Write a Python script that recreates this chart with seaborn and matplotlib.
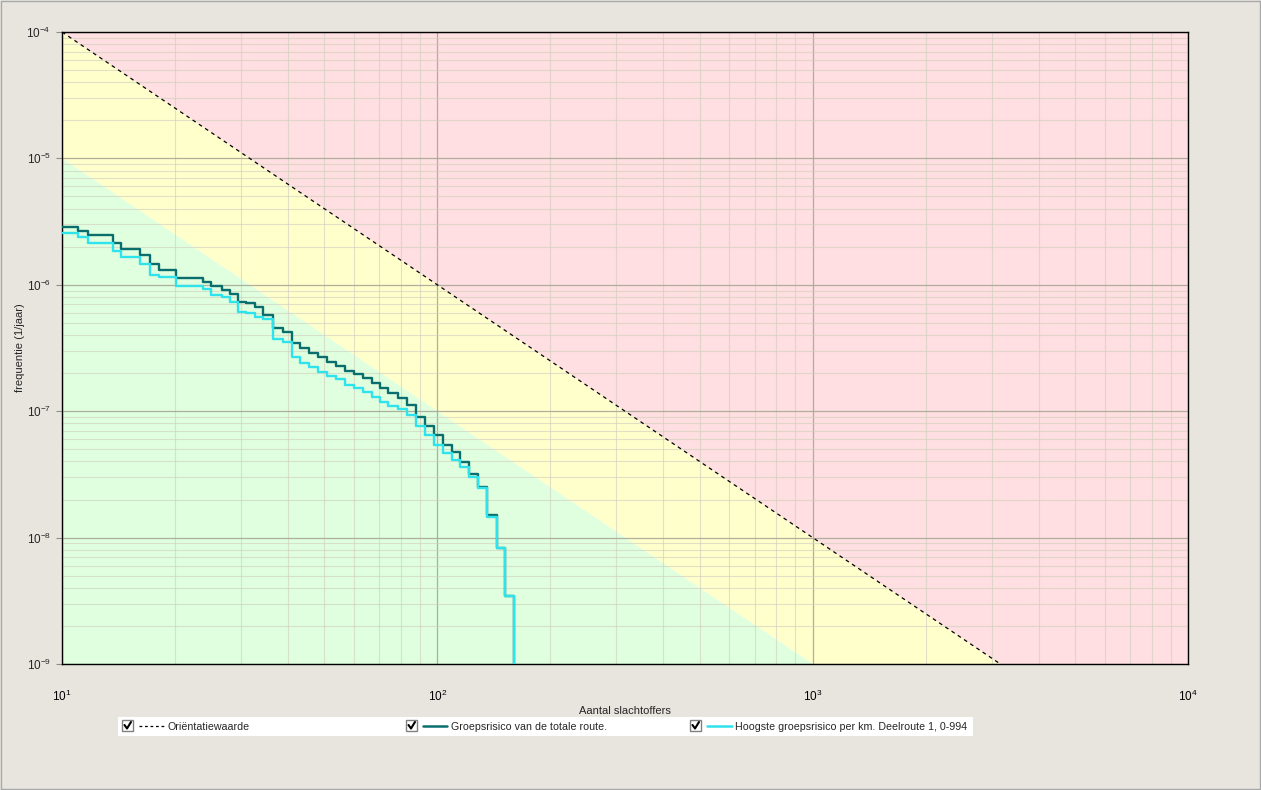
import numpy as np
import pandas as pd
import matplotlib
matplotlib.use("Agg")
import matplotlib.pyplot as plt
from matplotlib.patches import Rectangle
from matplotlib.lines import Line2D
from matplotlib.ticker import LogLocator, NullFormatter, LogFormatterSciNotation, FixedLocator
import seaborn as sns

# ---------------- data ----------------
# number of victims N at which each step of the FN-curves starts
n_steps = [10, 11.05, 11.75, 13.7, 14.4, 16.1, 17.2, 18.1, 20.1, 23.8, 25.0, 26.7,
           28.0, 29.5, 31.0, 32.7, 34.4, 36.6, 38.9, 40.9, 43.1, 45.6, 48.2, 50.9,
           53.7, 56.8, 60.0, 63.5, 66.9, 70.4, 74.0, 78.4, 82.9, 87.8, 92.7, 98.0,
           103.4, 109.2, 115.2, 121.7, 128.6, 135.9, 144.0, 151.5, 160.4]
# Groepsrisico van de totale route (frequency per year); last value lies below the axis
gr_totaal = [2.87e-6, 2.67e-6, 2.46e-6, 2.13e-6, 1.92e-6, 1.72e-6, 1.45e-6, 1.30e-6,
             1.14e-6, 1.06e-6, 9.78e-7, 9.10e-7, 8.46e-7, 7.35e-7, 7.14e-7, 6.64e-7,
             5.77e-7, 4.53e-7, 4.26e-7, 3.44e-7, 3.14e-7, 2.91e-7, 2.67e-7, 2.46e-7,
             2.28e-7, 2.09e-7, 1.97e-7, 1.82e-7, 1.68e-7, 1.52e-7, 1.385e-7, 1.265e-7,
             1.12e-7, 9.05e-8, 7.64e-8, 6.48e-8, 5.45e-8, 4.78e-8, 3.99e-8, 3.21e-8,
             2.53e-8, 1.50e-8, 8.32e-9, 3.47e-9, 1e-11]
# Hoogste groepsrisico per km, Deelroute 1, 0-994
gr_hoogste = [2.58e-6, 2.40e-6, 2.15e-6, 1.85e-6, 1.66e-6, 1.47e-6, 1.20e-6, 1.15e-6,
              9.78e-7, 9.21e-7, 8.30e-7, 8.01e-7, 7.35e-7, 6.13e-7, 5.98e-7, 5.59e-7,
              5.41e-7, 3.72e-7, 3.55e-7, 2.70e-7, 2.42e-7, 2.25e-7, 2.05e-7, 1.90e-7,
              1.79e-7, 1.61e-7, 1.52e-7, 1.43e-7, 1.29e-7, 1.19e-7, 1.09e-7, 1.035e-7,
              9.33e-8, 7.64e-8, 6.48e-8, 5.40e-8, 4.64e-8, 4.11e-8, 3.64e-8, 3.03e-8,
              2.45e-8, 1.46e-8, 8.27e-9, 3.45e-9, 1e-11]

# axis ticks
x_ticks = [1e1, 1e2, 1e3, 1e4]
y_ticks = [1e-9, 1e-8, 1e-7, 1e-6, 1e-5, 1e-4]

# orientation value: F = C / N^2
ow_constant = 1e-2
ow_lower_constant = 1e-3

legend_labels = ["Oriëntatiewaarde", "Groepsrisico van de totale route.",
                 "Hoogste groepsrisico per km. Deelroute 1, 0-994"]
xlabel = "Aantal slachtoffers"
ylabel = "frequentie (1/jaar)"

# ---------------- style ----------------
sns.set_style("white")
plt.rcParams["font.family"] = ["Liberation Sans", "DejaVu Sans"]
plt.rcParams["mathtext.default"] = "regular"

W, H = 1261, 790
bg = "#E8E5DF"
c_red = "#FFDFE1"
c_yel = "#FFFFCC"
c_grn = "#DFFFDF"
c_dark = "#0B6E6E"
c_cyan = "#2EE3EC"

def fx(px):
    return px / W

def fy(py):
    return 1 - py / H

fig = plt.figure(figsize=(W / 100, H / 100), dpi=100, facecolor=bg)
ax = fig.add_axes([fx(62), fy(664), (1188 - 62) / W, (664 - 32) / H])
ax.set_xscale("log")
ax.set_yscale("log")
ax.set_xlim(10, 1e4)
ax.set_ylim(1e-9, 1e-4)

# background zones
ngrid = np.logspace(1, 4, 400)
upper = ow_constant / ngrid ** 2
lower = ow_lower_constant / ngrid ** 2
ax.fill_between(ngrid, upper, 1.0, color=c_red, lw=0, zorder=0.3)
ax.fill_between(ngrid, lower, upper, color=c_yel, lw=0, zorder=0.3)
ax.fill_between(ngrid, 1e-14, lower, color=c_grn, lw=0, zorder=0.3)

# orientation line
ax.plot(ngrid, upper, color="black", lw=0.9, ls=(0, (3, 3)), zorder=3)

# FN curves
df = pd.DataFrame({"N": n_steps, "totaal": gr_totaal, "hoogste": gr_hoogste})
sns.lineplot(data=df, x="N", y="totaal", ax=ax, color=c_dark, lw=1.7,
             drawstyle="steps-post", estimator=None, sort=False, zorder=4)
sns.lineplot(data=df, x="N", y="hoogste", ax=ax, color=c_cyan, lw=1.7,
             drawstyle="steps-post", estimator=None, sort=False, zorder=5)
ax.set_xlim(10, 1e4)
ax.set_ylim(1e-9, 1e-4)

# ticks and grid
ax.xaxis.set_major_locator(FixedLocator(x_ticks))
ax.yaxis.set_major_locator(FixedLocator(y_ticks))
minor_x = [m * d for d in x_ticks[:-1] for m in range(2, 10)]
minor_y = [m * d for d in y_ticks[:-1] for m in range(2, 10)]
ax.xaxis.set_minor_locator(FixedLocator(minor_x))
ax.yaxis.set_minor_locator(FixedLocator(minor_y))
ax.xaxis.set_minor_formatter(NullFormatter())
ax.yaxis.set_minor_formatter(NullFormatter())
ax.xaxis.set_major_formatter(LogFormatterSciNotation())
ax.yaxis.set_major_formatter(LogFormatterSciNotation())
ax.grid(which="major", color="#A9A797", lw=0.9, alpha=0.9)
ax.grid(which="minor", color="#D2D0C0", lw=0.8, alpha=0.65)

# spines / ticks
for s in ax.spines.values():
    s.set_color("black")
    s.set_linewidth(1.0)
    s.set_visible(True)
ax.tick_params(axis="x", which="major", length=0, pad=18, labelsize=8.5, labelcolor="black")
ax.tick_params(axis="y", which="major", length=4, width=0.8, color="#909080",
               pad=4, labelsize=8.5, left=True)
ax.tick_params(which="minor", length=0)

ax.set_xlabel(xlabel, fontsize=8)
ax.set_ylabel(ylabel, fontsize=8)
ax.xaxis.set_label_coords(0.5, -0.066)
ax.yaxis.set_label_coords(-0.033, 0.5)

# legend (drawn as a Windows-style strip with check boxes)
fig.patches.append(Rectangle((fx(118), fy(736)), (973 - 118) / W, 19 / H,
                             transform=fig.transFigure, facecolor="white",
                             edgecolor="none", zorder=1))
box_x = [122, 406, 690]
line_x = [(139, 165), (423, 447), (707, 732)]
text_x = [168, 451, 735]
styles = [dict(color="black", lw=0.9, ls=(0, (2.2, 2.2))),
          dict(color=c_dark, lw=1.8), dict(color=c_cyan, lw=1.8)]
for bx, (l0, l1), tx, lab, st in zip(box_x, line_x, text_x, legend_labels, styles):
    fig.patches.append(Rectangle((fx(bx), fy(731)), 11 / W, 11 / H,
                                 transform=fig.transFigure, facecolor="white",
                                 edgecolor="#808080", lw=1.0, zorder=2))
    fig.lines.append(Line2D([fx(bx + 2.5), fx(bx + 5), fx(bx + 9)],
                            [fy(725), fy(728.5), fy(722)],
                            transform=fig.transFigure, color="black", lw=1.5, zorder=3))
    fig.lines.append(Line2D([fx(l0), fx(l1)], [fy(726), fy(726)],
                            transform=fig.transFigure, zorder=3, **st))
    fig.text(fx(tx), fy(726.5), lab, fontsize=7.7, va="center", ha="left", zorder=3)

# thin window border
fig.patches.append(Rectangle((0.001, 0.001), 0.998, 0.998, transform=fig.transFigure,
                             facecolor="none", edgecolor="#A8A8A8", lw=1.0))

fig.savefig("out.png", dpi=100, facecolor=bg)
